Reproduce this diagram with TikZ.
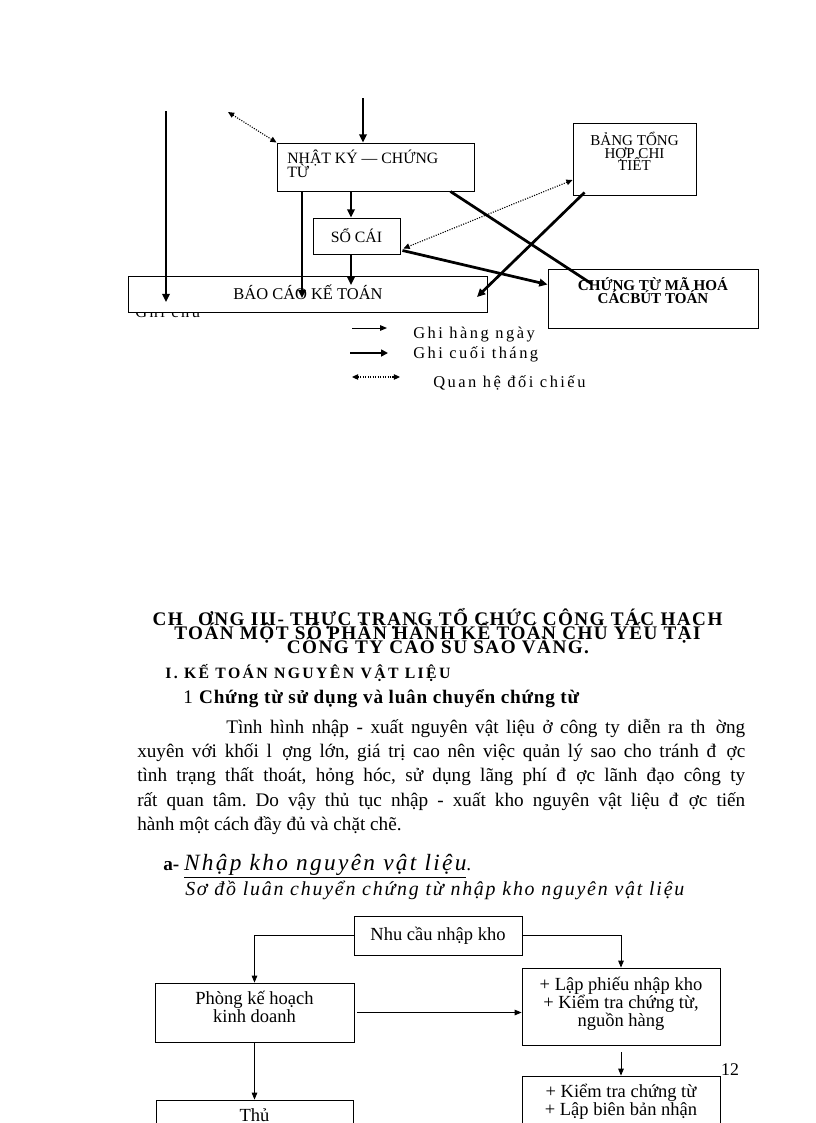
\documentclass[tikz,border=0pt]{standalone}
\usepackage{fontspec}
\setmainfont{Liberation Serif}
\newfontfamily\spacedfont[LetterSpace=15]{Liberation Serif}
\newfontfamily\headfont[LetterSpace=7.5]{Liberation Serif}
\newfontfamily\subfont[LetterSpace=4]{Liberation Serif}
\newfontfamily\titlefont[LetterSpace=10]{Liberation Serif}
\newfontfamily\sodofont[LetterSpace=9]{Liberation Serif}
\usetikzlibrary{arrows.meta,positioning,calc}
\newlength\pxl
\setlength\pxl{0.7295pt}
\newcommand\fsz[2]{\fontsize{#1}{#2}\selectfont}
\frenchspacing
\setlength\lineskiplimit{-100pt}
\tikzset{
  box/.style={draw,line width=0.7pt,inner sep=0pt},
  plain/.style={inner sep=0pt,anchor=base west},
  boxtext/.style={inner sep=0pt,font=\fsz{11.5}{10.2},align=center},
  thickarr/.style={line width=2pt,-{Triangle[length=6pt,width=5.5pt]}},
  thinarr/.style={line width=0.7pt,-{Triangle[length=5pt,width=4pt]}},
  dotarr/.style={line width=0.8pt,densely dotted,{Triangle[length=4.5pt,width=4pt]}-{Triangle[length=4.5pt,width=4pt]}},
  flow/.style={line width=0.6pt,-{Triangle[length=5pt,width=4pt]}},
  flowtext/.style={inner sep=0pt,font=\fsz{13.5}{13},align=center},
}

\begin{document}
\begin{tikzpicture}[x=\pxl,y=-\pxl]
\useasboundingbox (0,0) rectangle (816,1123);
\fill[white] (0,0) rectangle (816,1123);
\clip (0,0) rectangle (816,1123);

% so do ghi so
\node[plain,font=\spacedfont\fsz{12}{14}] (ghichu) at (135,317) {Ghi chú};
\node[box,minimum width=197\pxl,minimum height=48\pxl] (nkct) at (375.5,167) {};
\node[boxtext,align=left,anchor=north west] (nkctt) at (287,150) {NHẬT KÝ — CHỨNG\\TỪ};
\node[box,minimum width=87\pxl,minimum height=36\pxl,font=\fsz{11.5}{12}] (socai) at (356.5,236) {SỔ CÁI};
\node[box,fill=white,minimum width=359\pxl,minimum height=36\pxl] (baocao) at (307.5,294) {};
\node[inner sep=0pt,anchor=base,font=\fsz{12}{12}] (baocaot) at (308,299) {BÁO CÁO KẾ TOÁN};
\node[box,minimum width=123\pxl,minimum height=72\pxl] (bangth) at (634.5,159) {};
\node[boxtext,anchor=north,font=\fsz{11}{9.1}] (bangtht) at (634.5,132) {BẢNG TỔNG\\HỢP CHI\\TIẾT};
\node[box,minimum width=210\pxl,minimum height=59\pxl] (ctmh) at (653,298.5) {};
\node[boxtext,anchor=north,font=\bfseries\fsz{11}{9.5}] (ctmht) at (653,277) {CHỨNG TỪ MÃ HOÁ\\CÁCBÚT TOÁN};

\coordinate (gcTop) at (166,111);
\coordinate (gcTip) at (166,302);
\coordinate (dotEnd) at (228,112);
\coordinate (inTop) at (363,98);
\coordinate (colS) at (351,285);
\coordinate (colN) at (302,298);
\coordinate (ctTip) at (592,284);
\coordinate (bcTip) at (477,297);
\draw[thickarr] (gcTop) -- (gcTip);
\draw[dotarr] (dotEnd) -- (nkct.north west);
\draw[thickarr] (inTop) -- (inTop |- nkct.north);
\draw[thickarr] (nkct.south -| colS) -- (socai.north -| colS);
\draw[thickarr] (socai.south -| colS) -- (colS);
\draw[thickarr] (nkct.south -| colN) -- (colN);
\draw[line width=2pt] ($(nkct.south east)+(-24,0)$) -- (ctTip);
\draw[thickarr] ($(bangth.south west)+(12,-3)$) -- (bcTip);
\draw[dotarr] ($(bangth.west)+(0,21)$) -- ($(socai.south east)+(3,-6)$);
\draw[thickarr] ($(socai.south east)+(2,-4)$) -- ($(ctmh.north west)+(0,16)$);

% chu giai
\coordinate (lg1a) at (352,328); \coordinate (lg1b) at (387,328);
\coordinate (lg2a) at (350,353); \coordinate (lg2b) at (388,353);
\coordinate (lg3a) at (352,377); \coordinate (lg3b) at (400,377);
\draw[thinarr] (lg1a) -- (lg1b);
\draw[line width=1.8pt,-{Triangle[length=5pt,width=5pt]}] (lg2a) -- (lg2b);
\draw[dotarr] (lg3a) -- (lg3b);
\node[plain,font=\spacedfont\fsz{12}{14}] (lg1t) at (413,338) {Ghi hàng ngày};
\node[plain,font=\spacedfont\fsz{12}{14}] (lg2t) at (413,358) {Ghi cuối tháng};
\node[plain,font=\spacedfont\fsz{12}{14}] (lg3t) at (433,387) {Quan hệ đối chiếu};

% chuong III
\node[inner sep=0pt,anchor=base,font=\headfont\bfseries\fsz{14}{14}] (ch1) at (437.5,625) {CH\phantom{Ư}ƠNG III- THỰC TRẠNG TỔ CHỨC CÔNG TÁC HẠCH};
\node[inner sep=0pt,anchor=base,font=\headfont\bfseries\fsz{14}{14}] (ch2) at (437.5,639) {TOÁN MỘT SỐ PHẦN HÀNH KẾ TOÁN CHỦ YẾU TẠI};
\node[inner sep=0pt,anchor=base,font=\headfont\bfseries\fsz{14}{14}] (ch3) at (438,653) {CÔNG TY CAO SU SAO VÀNG.};
\node[plain,font=\spacedfont\bfseries\fsz{11.5}{12}] (muc1) at (165,678) {I. KẾ TOÁN NGUYÊN VẬT LIỆU};
\node[plain,font=\subfont\fsz{14}{16}] (muc11) at (183,703) {1 \textbf{Chứng từ sử dụng và luân chuyển chứng từ}};

\node[plain,font=\fsz{14}{17}] (p1) at (226,733) {\makebox[519\pxl][s]{Tình hình nhập - xuất nguyên vật liệu ở công ty diễn ra th\phantom{ư}ờng}};
\node[plain,font=\fsz{14}{17}] (p2) at (137,757) {\makebox[608\pxl][s]{xuyên với khối l\phantom{ư}ợng lớn, giá trị cao nên việc quản lý sao cho tránh đ\phantom{ư}ợc}};
\node[plain,font=\fsz{14}{17}] (p3) at (137,781) {\makebox[608\pxl][s]{tình trạng thất thoát, hỏng hóc, sử dụng lãng phí đ\phantom{ư}ợc lãnh đạo công ty}};
\node[plain,font=\fsz{14}{17}] (p4) at (137,806) {\makebox[608\pxl][s]{rất quan tâm. Do vậy thủ tục nhập - xuất kho nguyên vật liệu đ\phantom{ư}ợc tiến}};
\node[plain,font=\fsz{14}{17}] (p5) at (137,830) {hành một cách đầy đủ và chặt chẽ.};

\node[plain,font=\fsz{14}{16}] (muca) at (163,870) {\textbf{a-} {\titlefont\itshape\fsz{17}{18}\underline{Nhập kho nguyên vật liệu}}.};
\node[plain,font=\sodofont\itshape\fsz{14.5}{16}] (sodo) at (185,895) {Sơ đồ luân chuyển chứng từ nhập kho nguyên vật liệu};

% so do luan chuyen
\node[box,line width=0.6pt,minimum width=168\pxl,minimum height=39\pxl,flowtext] (nhucau) at (438,935.5) {Nhu cầu nhập kho};
\node[box,line width=0.6pt,minimum width=199\pxl,minimum height=59\pxl] (phong) at (254.5,1012.5) {};
\node[flowtext] (phongt) at (254.5,1007) {Phòng kế hoạch\\kinh doanh};
\node[box,line width=0.6pt,minimum width=198\pxl,minimum height=77\pxl] (lapphieu) at (621,1006.5) {};
\node[flowtext,anchor=north] (lapphieut) at (621,977) {+ Lập phiếu nhập kho\\+ Kiểm tra chứng từ,\\nguồn hàng};
\node[box,line width=0.6pt,minimum width=198\pxl,minimum height=104\pxl] (kiemtra) at (621,1128) {};
\node[flowtext,anchor=north] (kiemtrat) at (621,1084) {+ Kiểm tra chứng từ\\+ Lập biên bản nhận};
\node[box,line width=0.6pt,minimum width=197\pxl,minimum height=100\pxl] (thu) at (254.5,1150) {};
\node[flowtext] (thut) at (254.5,1115) {Thủ};
\node[inner sep=0pt,font=\fsz{13}{14}] (trang) at (730,1070) {12};

\draw[flow] (nhucau.west) -| (phong.north);
\draw[flow] (nhucau.east) -| (lapphieu.north);
\draw[flow,shorten <=3\pxl] (phong.east) -- (phong.east -| lapphieu.west);
\draw[flow,shorten <=7\pxl] (lapphieu.south) -- (kiemtra.north);
\draw[flow] (phong.south) -- (thu.north);
\end{tikzpicture}
\end{document}
